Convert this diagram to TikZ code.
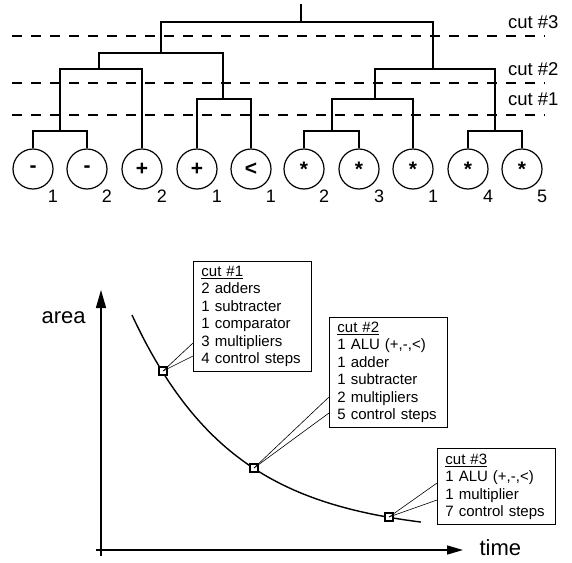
\documentclass[tikz,border=0pt]{standalone}
\usepackage{fontspec}
\setmainfont{Liberation Sans}
\usepackage{tikz}
\usetikzlibrary{arrows.meta,positioning}

\tikzset{
	op/.style={draw, circle, line width=1.2pt, minimum size=40pt, inner sep=0pt, font=\fontsize{21}{22}\selectfont\bfseries},
	idx/.style={anchor=base, font=\fontsize{18}{20}\selectfont},
	cutline/.style={line width=1.9pt, dash pattern=on 10pt off 9pt},
	cutlabel/.style={anchor=base east, font=\fontsize{18.5}{20}\selectfont},
	infobox/.style={draw, line width=0.9pt, fill=white, anchor=south west, align=left, text width=102pt, inner xsep=8pt, inner ysep=5pt, font=\fontsize{15}{17.4}\selectfont},
	probe/.style={draw, line width=1.8pt, fill=white, minimum size=8pt, inner sep=0pt},
	axislabel/.style={anchor=base west, font=\fontsize{22}{24}\selectfont}
}

\begin{document}
\begin{tikzpicture}[x=1pt, y=-1pt]
		\useasboundingbox (0,0) rectangle (572,562);

		% operations
		\node[op] (sub1) at (33,169) {-};
		\node[op] (sub2) at (87,169) {-};
		\node[op] (add2) at (142,169) {+};
		\node[op] (add1) at (197,169) {+};
		\node[op] (cmp1) at (251,169) {<};
		\node[op] (mul2) at (304,169) {*};
		\node[op] (mul3) at (359,169) {*};
		\node[op] (mul1) at (413,169) {*};
		\node[op] (mul4) at (468,169) {*};
		\node[op] (mul5) at (522,169) {*};

		\node[idx] (sub1i) at ([shift={(20,33)}]sub1) {1};
		\node[idx] (sub2i) at ([shift={(20,33)}]sub2) {2};
		\node[idx] (add2i) at ([shift={(20,33)}]add2) {2};
		\node[idx] (add1i) at ([shift={(20,33)}]add1) {1};
		\node[idx] (cmp1i) at ([shift={(20,33)}]cmp1) {1};
		\node[idx] (mul2i) at ([shift={(20,33)}]mul2) {2};
		\node[idx] (mul3i) at ([shift={(20,33)}]mul3) {3};
		\node[idx] (mul1i) at ([shift={(20,33)}]mul1) {1};
		\node[idx] (mul4i) at ([shift={(20,33)}]mul4) {4};
		\node[idx] (mul5i) at ([shift={(20,33)}]mul5) {5};

		% clustering tree
		\coordinate (j1) at (60,131);
		\coordinate (j2) at (99,69);
		\coordinate (j3) at (223,99);
		\coordinate (j4) at (161,53);
		\coordinate (j5) at (332,131);
		\coordinate (j6) at (375,99);
		\coordinate (j7) at (495,131);
		\coordinate (j8) at (433,69);
		\coordinate (j9) at (301,22);
		\coordinate (root) at (301,4);

		\draw[line width=1.9pt] (sub1.north) |- (j1) -| (sub2.north);
		\draw[line width=1.9pt] (j1) |- (j2) -| (add2.north);
		\draw[line width=1.9pt] (add1.north) |- (j3) -| (cmp1.north);
		\draw[line width=1.9pt] (j2) |- (j4) -| (j3);
		\draw[line width=1.9pt] (mul2.north) |- (j5) -| (mul3.north);
		\draw[line width=1.9pt] (j5) |- (j6) -| (mul1.north);
		\draw[line width=1.9pt] (mul4.north) |- (j7) -| (mul5.north);
		\draw[line width=1.9pt] (j6) |- (j8) -| (j7);
		\draw[line width=1.9pt] (j4) |- (j9) -| (j8);
		\draw[line width=1.9pt] (j9) -- (root);

		% cuts
		\draw[cutline] (12,36) -- (545,36);
		\draw[cutline] (12,83) -- (545,83);
		\draw[cutline] (12,115) -- (545,115);
		\node[cutlabel] (cut3) at (562,28) {cut \#3};
		\node[cutlabel] (cut2) at (562,75) {cut \#2};
		\node[cutlabel] (cut1) at (562,105) {cut \#1};

		% area / time trade-off
		\coordinate (yfoot) at (101,556);
		\coordinate (ytip) at (101,290);
		\coordinate (xfoot) at (96,550);
		\coordinate (xtip) at (463,550);
		\draw[line width=1.4pt, -{Triangle[length=18pt, width=10pt]}] (yfoot) -- (ytip);
		\draw[line width=1.4pt, -{Triangle[length=16pt, width=9pt]}] (xfoot) -- (xtip);
		\node[axislabel] (area) at (38,323) {area};
		\node[axislabel] (time) at (476,555) {time};

		\draw[line width=1.4pt] plot[domain=132:421, samples=80, smooth] (\x, {535-220*exp(-(\x-132)/102)});

		\node[infobox] (box1) at (193,372) {\underline{cut \#1}\\2 adders\\1 subtracter\\1 comparator\\3 multipliers\\4 control steps};
		\node[infobox] (box2) at (329,428) {\underline{cut \#2}\\1 ALU (+,-,<)\\1 adder\\1 subtracter\\2 multipliers\\5 control steps};
		\node[infobox] (box3) at (437,525) {\underline{cut \#3}\\1 ALU (+,-,<)\\1 multiplier\\7 control steps};

		\node[probe] (p1) at (163,371) {};
		\node[probe] (p2) at (254,468) {};
		\node[probe] (p3) at (389,517) {};

		\draw[line width=0.6pt] (p1.center) -- ([yshift=29pt]box1.south west);
		\draw[line width=0.6pt] (p1.center) -- ([yshift=16pt]box1.south west);
		\draw[line width=0.6pt] (p2.center) -- ([yshift=31pt]box2.south west);
		\draw[line width=0.6pt] (p2.center) -- ([yshift=15pt]box2.south west);
		\draw[line width=0.6pt] (p3.center) -- ([yshift=42pt]box3.south west);
		\draw[line width=0.6pt] (p3.center) -- ([yshift=25pt]box3.south west);
	\end{tikzpicture}
\end{document}
